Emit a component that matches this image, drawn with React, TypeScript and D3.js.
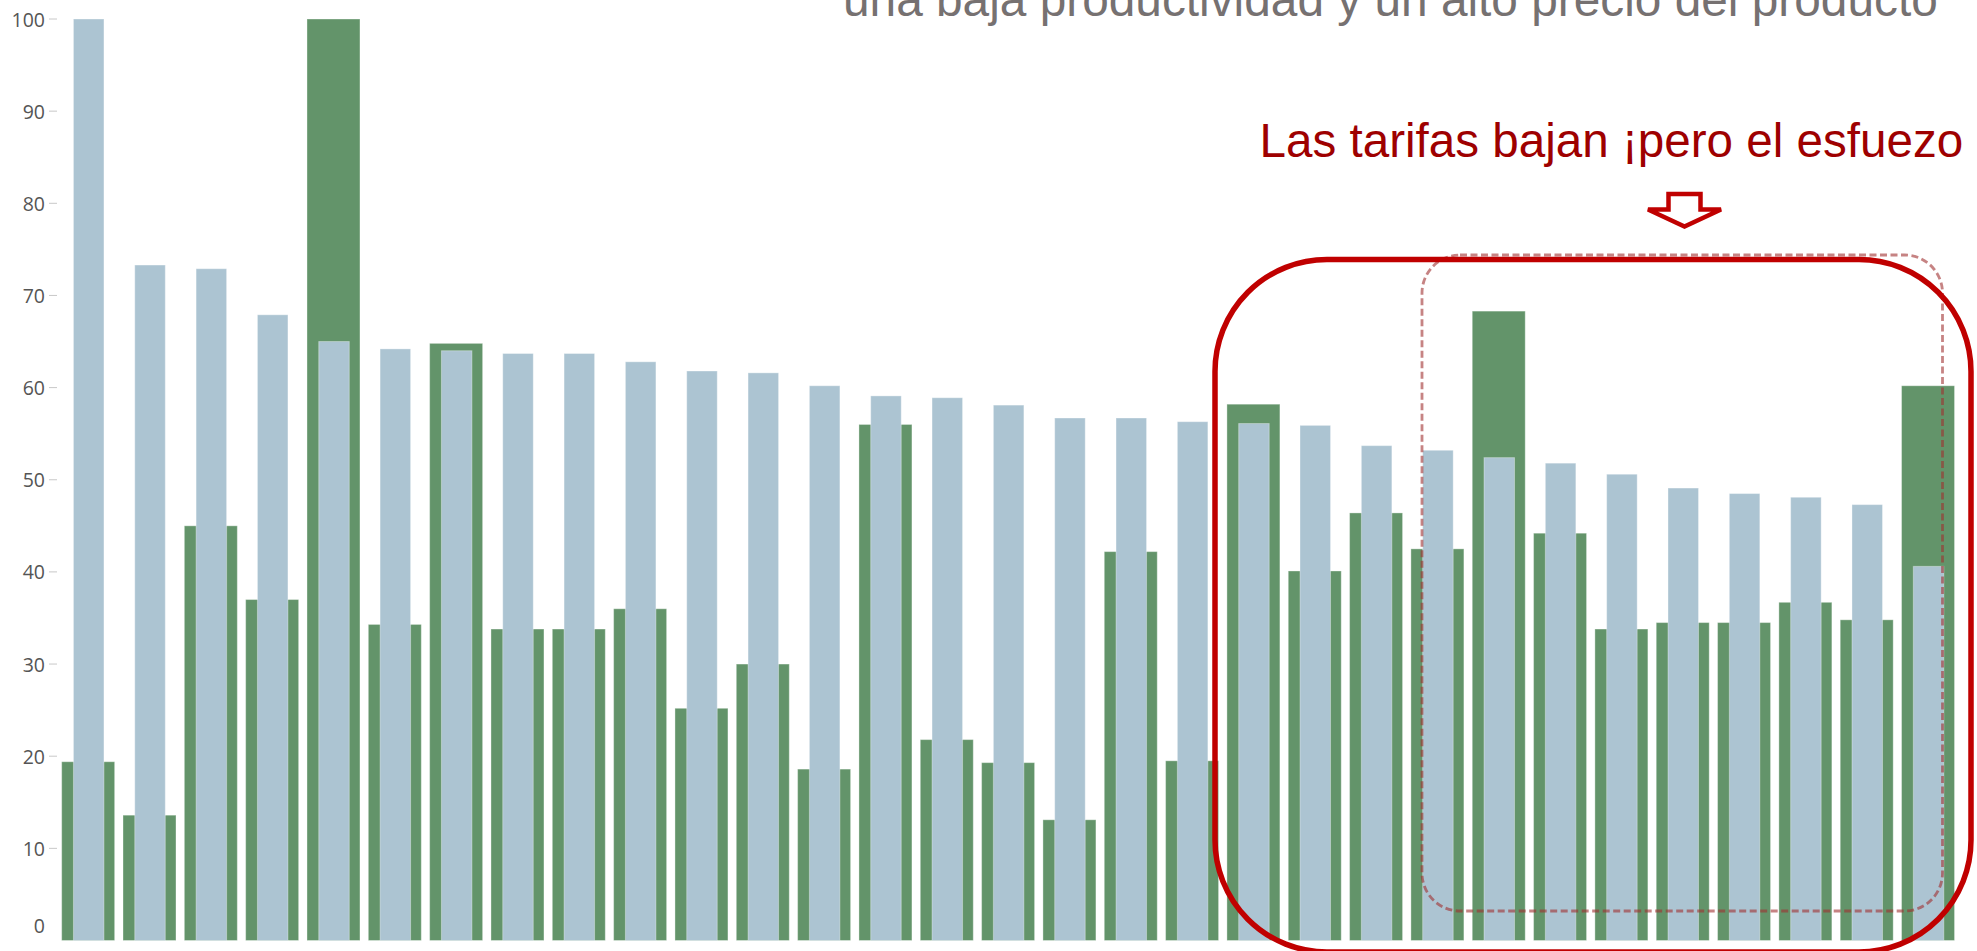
import React from "react";
import * as d3 from "d3";

const categories: string[] = Array.from({ length: 31 }, (_, i) => `P${i + 1}`);
const blueValues: number[] = [100, 73.3, 72.9, 67.9, 65.0, 64.2, 64.0, 63.7, 63.7, 62.8, 61.8, 61.6, 60.2, 59.1, 58.9, 58.1, 56.7, 56.7, 56.3, 56.1, 55.9, 53.7, 53.2, 52.4, 51.8, 50.6, 49.1, 48.5, 48.1, 47.3, 40.6];
const greenValues: number[] = [19.4, 13.6, 45.0, 37.0, 100, 34.3, 64.8, 33.8, 33.8, 36.0, 25.2, 30.0, 18.6, 56.0, 21.8, 19.3, 13.1, 42.2, 19.5, 58.2, 40.1, 46.4, 42.5, 68.3, 44.2, 33.8, 34.5, 34.5, 36.7, 34.8, 60.2];
const yTicks: number[] = [0, 10, 20, 30, 40, 50, 60, 70, 80, 90, 100];
const titleText = "una baja productividad y un alto precio del producto";
const noteText = "Las tarifas bajan ¡pero el esfuezo";

const W = 1977;
const H = 951;
const GREEN = "#63946a";
const BLUE = "#acc4d2";

export default function App() {
  const x = d3
    .scaleBand<string>()
    .domain(categories)
    .range([57.5, 1958.7])
    .paddingInner(0.136)
    .paddingOuter(0.068);
  const y = d3.scaleLinear().domain([0, 100]).range([940.5, 19]);
  const bw = x.bandwidth();
  const blueOff = bw * 0.222;
  const blueW = bw * 0.576;

  return (
    <svg
      width={W}
      height={H}
      style={{ position: "absolute", left: 0, top: 0, background: "#fff" }}
    >
      {/* Y axis */}
      <g>
        {yTicks.map((t) => (
          <g key={t}>
            {t !== 0 && (
              <line x1={49} x2={57} y1={y(t)} y2={y(t)} stroke="#c8c8c8" strokeWidth={1} />
            )}
            <text
              x={45}
              y={t === 0 ? y(t) - 15 : y(t)}
              textAnchor="end"
              dominantBaseline="central"
              fontFamily="'Open Sans', Lato, sans-serif"
              fontSize={19.5}
              fill="#555"
            >
              {t}
            </text>
          </g>
        ))}
      </g>

      {/* Bars */}
      <g>
        {categories.map((c, i) => (
          <g key={c}>
            <rect
              x={x(c)!}
              y={y(greenValues[i])}
              width={bw}
              height={y(0) - y(greenValues[i])}
              fill={GREEN}
              stroke="#fff"
              strokeOpacity={0.35}
              strokeWidth={1}
            />
            <rect
              x={x(c)! + blueOff}
              y={y(blueValues[i])}
              width={blueW}
              height={y(0) - y(blueValues[i])}
              fill={BLUE}
              stroke="#fff"
              strokeOpacity={0.35}
              strokeWidth={1}
            />
          </g>
        ))}
      </g>

      {/* Title (clipped at top) */}
      <text
        x={843}
        y={16}
        fontFamily="'Liberation Sans', Arial, sans-serif"
        fontSize={47.8}
        fill="#767171"
      >
        {titleText}
      </text>

      {/* Red note */}
      <text
        x={1259.5}
        y={156.7}
        fontFamily="'Liberation Sans', Arial, sans-serif"
        fontSize={47.6}
        fill="#9e0000"
      >
        {noteText}
      </text>

      {/* Hollow arrow */}
      <polygon
        points="1668.5,194 1700.5,194 1700.5,209.5 1721,209.5 1684.5,226.5 1648,209.5 1668.5,209.5"
        fill="#fff"
        stroke="#c00000"
        strokeWidth={4.5}
        strokeLinejoin="miter"
      />

      {/* Dashed rounded rect */}
      <rect
        x={1422}
        y={255}
        width={1942.5 - 1422}
        height={911 - 255}
        rx={38}
        ry={38}
        fill="none"
        stroke="#a03030"
        strokeOpacity={0.6}
        strokeWidth={2.8}
        strokeDasharray="7,3.5"
      />

      {/* Solid rounded rect */}
      <rect
        x={1215}
        y={259.5}
        width={1971 - 1215}
        height={952 - 259.5}
        rx={112}
        ry={112}
        fill="none"
        stroke="#c00000"
        strokeWidth={5.5}
      />
    </svg>
  );
}
